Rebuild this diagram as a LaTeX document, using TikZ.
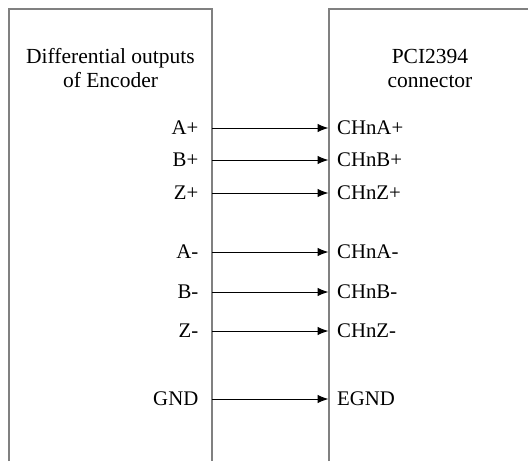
\documentclass[tikz,border=0pt]{standalone}
\usepackage{fontspec}
\setmainfont{Liberation Serif}
\newfontfamily\tmsfont{Liberation Serif}
\usetikzlibrary{arrows.meta}
\begin{document}
\begin{tikzpicture}[x=1pt,y=-1pt,
  boxline/.style={draw=black!50, line width=1.5pt},
  sig/.style={draw=black, line width=1pt, -{Latex[length=11pt,width=8.5pt]}},
  lab/.style={font=\tmsfont\fontsize{20.8}{24}\selectfont, inner sep=0pt},
  ttl/.style={font=\tmsfont\fontsize{21.5}{24}\selectfont, inner sep=0pt, anchor=base}]
\useasboundingbox (0,0) rectangle (528,461);
\fill[white] (0,0) rectangle (528,461);
% boxes (open at bottom / right)
\draw[boxline] (9,461) -- (9,9) -- (212,9) -- (212,461);
\draw[boxline] (329,461) -- (329,9) -- (528,9);
% titles
\node[ttl] (t1) at (110.5,63) {Differential outputs};
\node[ttl] (t2) at (110.5,87) {of Encoder};
\node[ttl] (t3) at (430,63) {PCI2394};
\node[ttl] (t4) at (430,87) {connector};
% signals
\foreach \nm/\y/\l/\r in {ap/128/A+/CHnA+, bp/160/B+/CHnB+, zp/193/Z+/CHnZ+,
                          am/252/A-/CHnA-, bm/292/B-/CHnB-, zm/331/Z-/CHnZ-,
                          gn/399/GND/EGND}{
  \node[lab, anchor=base east] (l\nm) at (198.5,\y+6) {\l};
  \node[lab, anchor=base west] (r\nm) at (337,\y+6) {\r};
  \coordinate (s\nm) at (212,\y);
  \coordinate (e\nm) at (328.5,\y);
  \draw[sig] (s\nm) -- (e\nm);
}
\end{tikzpicture}
\end{document}
